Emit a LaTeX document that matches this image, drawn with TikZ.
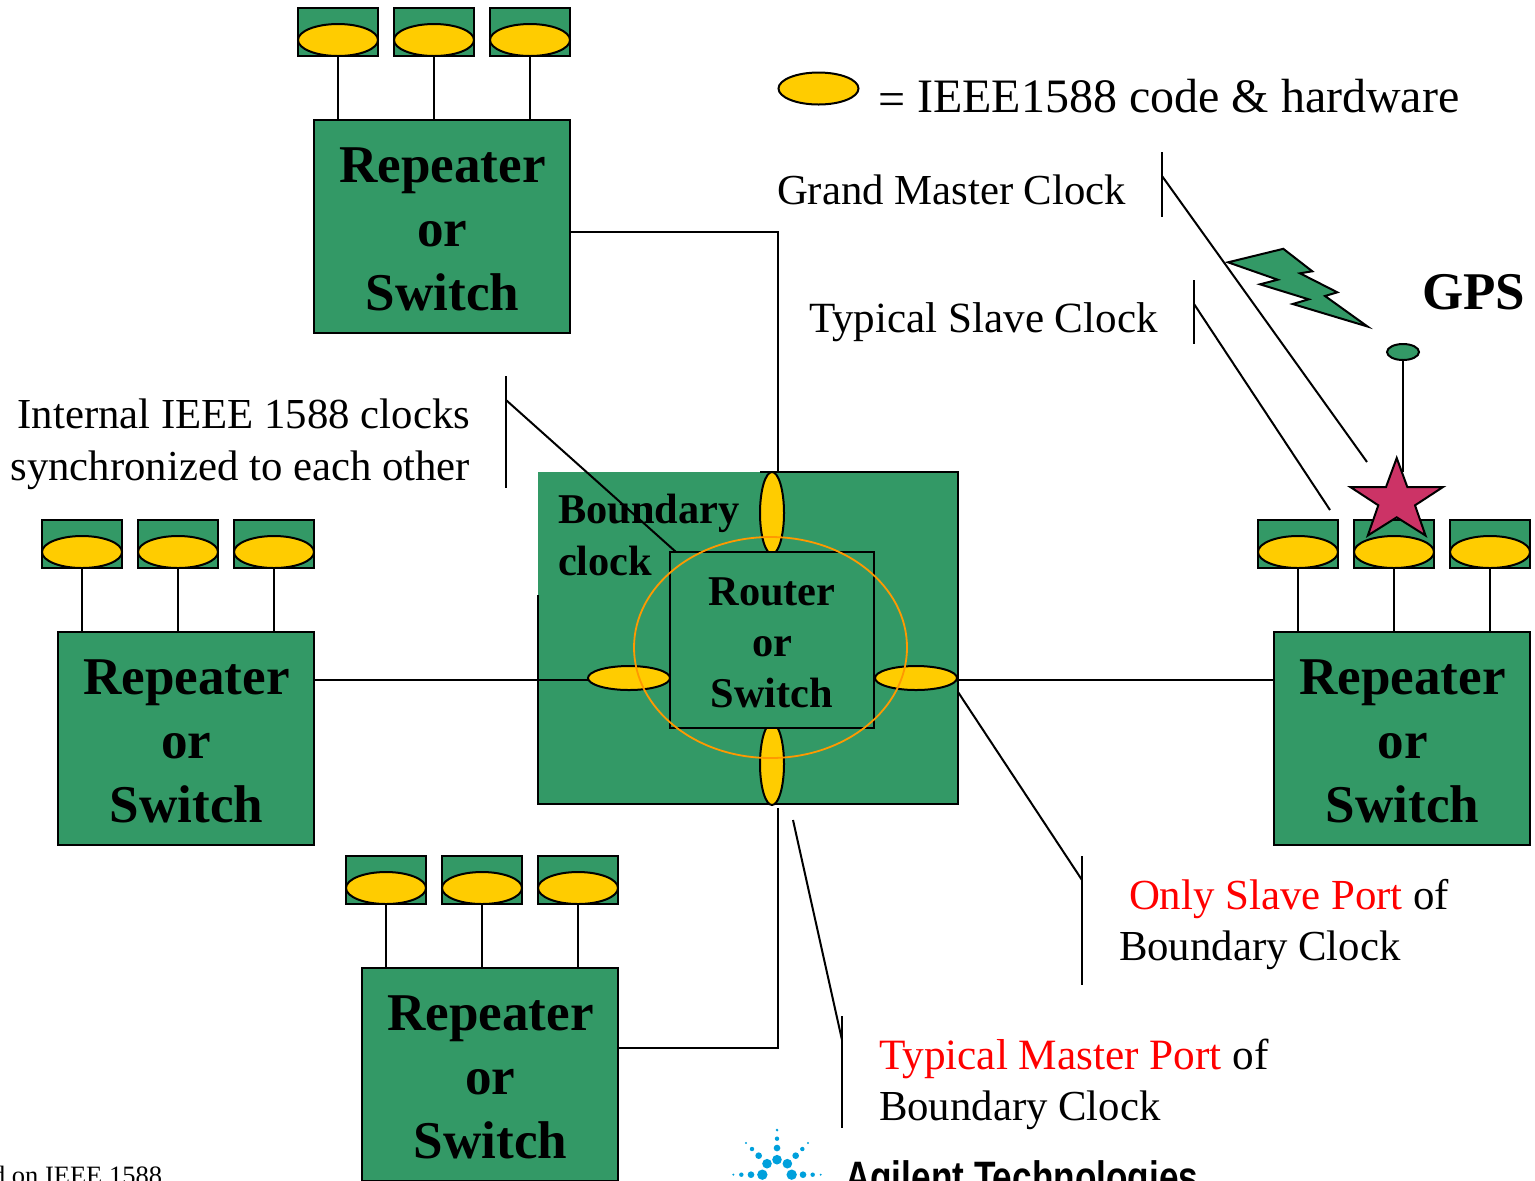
\documentclass[tikz,border=0pt]{standalone}
\usepackage{fontspec}
\setmainfont{Liberation Serif}
\newfontfamily\logofont{Liberation Sans}
\usetikzlibrary{shapes.geometric,calc}
\definecolor{boxgreen}{HTML}{339966}
\definecolor{portyellow}{HTML}{FFCC00}
\definecolor{ringorange}{HTML}{FF9900}
\definecolor{starred}{HTML}{CC3366}
\definecolor{logoblue}{HTML}{00A0DC}
\newcommand{\fsz}[2]{\fontsize{#1}{#2}\selectfont}
\tikzset{
  every node/.style={inner sep=0pt,outer sep=0pt},
  wire/.style={line width=1pt,black},
  repbox/.style={draw=black,line width=1pt,fill=boxgreen,rectangle,anchor=north west,minimum width=128pt,minimum height=106.5pt},
  reptext/.style={align=center,font=\fsz{26.55}{32}\bfseries},
  nicbox/.style={draw=black,line width=1pt,fill=boxgreen,rectangle,anchor=north west,minimum width=40pt,minimum height=24pt},
  port/.style={draw=black,line width=1pt,fill=portyellow,ellipse,minimum width=40pt,minimum height=16pt},
  hport/.style={draw=black,line width=1pt,fill=portyellow,ellipse,minimum width=41pt,minimum height=12pt},
  vport/.style={draw=black,line width=1pt,fill=portyellow,ellipse,minimum width=12pt,minimum height=41pt},
  label/.style={anchor=base west,font=\fsz{21.38}{26}},
  labelr/.style={anchor=base east,font=\fsz{21.38}{26}},
  boldlabel/.style={anchor=base west,font=\fsz{21.2}{26}\bfseries},
}
\newcommand{\repeater}[3]{%
  \node[repbox] (#1) at (#2,#3) {};
  \node[reptext] (#1-t) at ($(#1.center)+(.25pt,-1.25pt)$) {Repeater\\or\\Switch};
  \foreach \i/\dx in {1/-16,2/80,3/176}{
    \node[nicbox] (#1-n\i) at ({#2+\dx},{#3-112}) {};
    \node[port] (#1-e\i) at ($(#1-n\i.north west)+(20pt,-16pt)$) {};
    \draw[wire] (#1-e\i.south) -- (#1-e\i.south |- #1.north);
  }
}
\begin{document}
\begin{tikzpicture}[x=0.5pt,y=-0.5pt]
\useasboundingbox (0,0) rectangle (1535,1180);
\clip (0,0) rectangle (1535,1180);

% central device
\fill[boxgreen] (538,472) rectangle (958,804);
\coordinate (bcA) at (760,472);
\coordinate (bcB) at (958,472);
\coordinate (bcC) at (958,804);
\coordinate (bcD) at (538,804);
\coordinate (bcE) at (538,595);
\draw[wire] (bcA) -- (bcB) -- (bcC) -- (bcD) -- (bcE);
\node[vport] (ptop) at (772,513) {};
\node[vport] (pbot) at (772,764) {};
\node[hport] (pleft) at (629,678) {};
\node[hport] (pright) at (916,678) {};
\node[draw=black,line width=1pt,fill=boxgreen,rectangle,minimum width=102pt,minimum height=88pt,anchor=north west] (router) at (670,552) {};
\node[align=center,font=\fsz{21.2}{25.5}\bfseries] (routertext) at ($(router.center)+(0,-1.5pt)$) {Router\\or\\Switch};
\node[draw=ringorange,line width=.9pt,ellipse,minimum width=136.5pt,minimum height=110.5pt] (ring) at (770.5,647.5) {};
\node[boldlabel] (bclabel1) at (558,523) {Boundary};
\node[boldlabel] (bclabel2) at (558,575) {clock};

% repeaters
\repeater{rtop}{314}{120}
\repeater{rleft}{58}{632}
\repeater{rright}{1274}{632}
\repeater{rbot}{362}{968}

% trunk connectors
\coordinate (ct) at (778,472);
\coordinate (cb) at (778,808);
\draw[wire] (rtop.east |- 0,232) -- (ct |- 0,232) -- (ct);
\draw[wire] (rleft.east |- 0,680) -- (pleft.west |- 0,680);
\draw[wire] (pright.east |- 0,680) -- (rright.west |- 0,680);
\draw[wire] (rbot.east |- 0,1048) -- (cb |- 0,1048) -- (cb);

% legend
\node[port] (legend) at (818.5,88.5) {};
\node[anchor=base west,font=\fsz{24}{28}] (legendt) at (878,112) {\raisebox{-1.6pt}{=} IEEE1588 code \& hardware};

% annotations
\node[label] (gm) at (777,204) {Grand Master Clock};
\node[anchor=base west,font=\fsz{21.55}{26}] (ts) at (809,332) {Typical Slave Clock};
\node[labelr] (int1) at (470,428) {Internal IEEE 1588 clocks};
\node[labelr] (int2) at (470,480) {synchronized to each other};
\node[anchor=base west,font=\fsz{21.43}{26}] (os1) at (1129,909) {\textcolor{red}{Only Slave Port} of};
\node[label] (os2) at (1119,960) {Boundary Clock};
\node[anchor=base west,font=\fsz{21.63}{26}] (tm1) at (879,1069) {\textcolor{red}{Typical Master Port} of};
\node[label] (tm2) at (879,1120) {Boundary Clock};

\coordinate (gmA) at (1162,152); \coordinate (gmB) at (1162,217); \coordinate (gmC) at (1162,176); \coordinate (gmD) at (1367,462);
\draw[wire] (gmA) -- (gmB); \draw[wire] (gmC) -- (gmD);
\coordinate (tsA) at (1194,280); \coordinate (tsB) at (1194,344); \coordinate (tsC) at (1194,304); \coordinate (tsD) at (1330,510);
\draw[wire] (tsA) -- (tsB); \draw[wire] (tsC) -- (tsD);
\coordinate (inA) at (506,376); \coordinate (inB) at (506,488); \coordinate (inC) at (506,400); \coordinate (inD) at (676,552);
\draw[wire] (inA) -- (inB); \draw[wire] (inC) -- (inD);
\coordinate (osA) at (1082,856); \coordinate (osB) at (1082,985); \coordinate (osC) at (958,692); \coordinate (osD) at (1082,880);
\draw[wire] (osA) -- (osB); \draw[wire] (osC) -- (osD);
\coordinate (tmA) at (842,1016); \coordinate (tmB) at (842,1128); \coordinate (tmC) at (793,820); \coordinate (tmD) at (842,1040);
\draw[wire] (tmA) -- (tmB); \draw[wire] (tmC) -- (tmD);

% GPS
\node[anchor=base west,font=\fsz{26.5}{30}\bfseries] (gps) at (1422,309) {GPS};
\fill[boxgreen,draw=black,line width=1pt,line join=miter]
  (1228,262.3) -- (1283.3,248.8) -- (1312.3,271.3) -- (1300,273.3) -- (1337.3,292.3) -- (1325,296) -- (1367.5,326.5)
  -- (1292.7,304) -- (1308.7,299.3) -- (1260,284.3) -- (1277.7,279.7) -- cycle;
\node[draw=black,line width=1pt,fill=boxgreen,ellipse,minimum width=16pt,minimum height=8pt] (ant) at (1403,352) {};
\coordinate (antfoot) at (1403,472);
\draw[wire] (ant.south) -- (antfoot);
\fill[starred,draw=black,line width=1pt,line join=miter]
  (1396.7,458) -- (1407.3,487) -- (1443,487) -- (1415,505.3) -- (1425.5,535.5) -- (1396.7,517.3)
  -- (1367.8,535.5) -- (1378.3,505.3) -- (1350.3,487) -- (1386,487) -- cycle;

% footer
\node[anchor=base west,font=\fsz{13.25}{16}] (foot) at (-8,1184.5) {d on IEEE 1588};

% logo
\begin{scope}[shift={(700,1100)}]
\foreach \px/\py/\r in {231/179/13,201/191/13,262/191/13,187/224/14,275/224/14,231/144/9,231/116/6,231/90/4,176/167/9,287/167/9,156/147/6,307/147/6,138/129/3,324/129/3,153/224/9,309/224/9,124/224/6,338/224/6,100/224/3,362/224/3}
  \fill[logoblue] ({\px/3},{\py/3}) circle ({\r/5.4*1pt});
\end{scope}
\node[anchor=base west,inner sep=0pt] (logo) at (845,1192) {\scalebox{.80}[1]{\logofont\bfseries\fsz{22}{26}Agilent Technologies}};
\end{tikzpicture}
\end{document}
